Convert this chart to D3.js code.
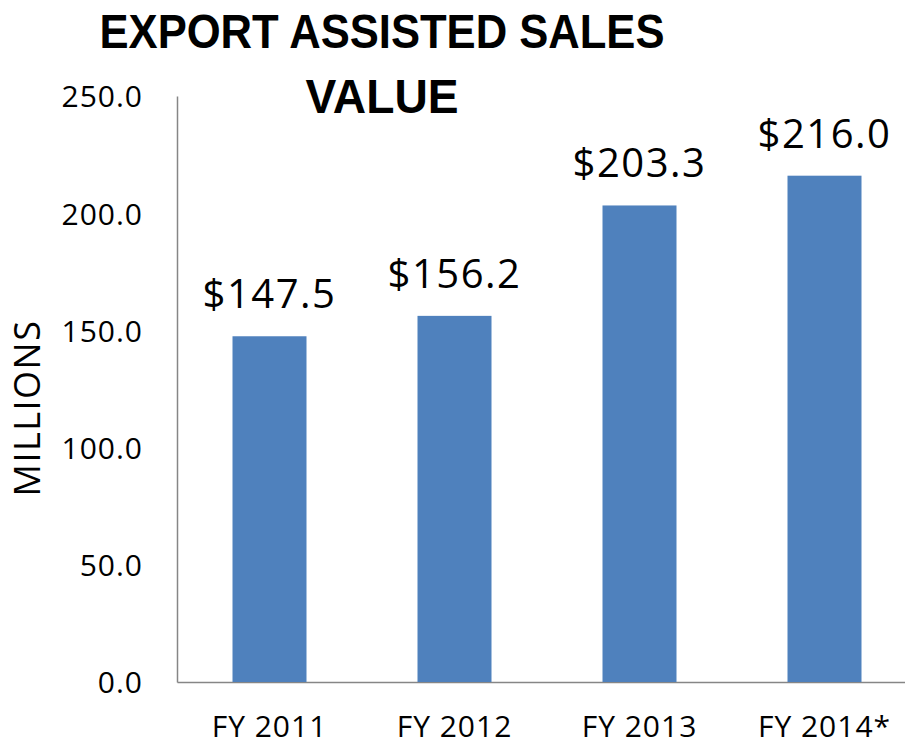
<!DOCTYPE html>
<html>
<head>
<meta charset="utf-8">
<script src="https://cdn.jsdelivr.net/npm/d3@7"></script>
<style>
  body { margin: 0; background: #fff; }
  svg { display: block; }
</style>
</head>
<body>
<div id="chart"></div>
<script>
// data
const years = ["FY 2011", "FY 2012", "FY 2013", "FY 2014*"];
const sales = [147.5, 156.2, 203.3, 216.0];
const yTicks = [0, 50, 100, 150, 200, 250];
const titleLines = ["EXPORT ASSISTED SALES", "VALUE"];

const width = 905, height = 745;
const plot = { left: 177, right: 917, top: 96, bottom: 682 };
const font = "'Open Sans', sans-serif";

const svg = d3.select("#chart").append("svg")
    .attr("width", width).attr("height", height);

// scales
const x = d3.scaleBand().domain(years)
    .range([plot.left, plot.right])
    .paddingInner(0.6).paddingOuter(0.3);
const y = d3.scaleLinear().domain([0, 250])
    .range([plot.bottom, plot.top]);

// y axis
const yAxis = svg.append("g")
    .attr("transform", "translate(" + plot.left + ",0)")
    .call(d3.axisLeft(y).tickValues(yTicks).tickSize(0).tickPadding(34)
        .tickFormat(d3.format(".1f")));
yAxis.select(".domain").attr("stroke", "#868686").attr("stroke-width", 1.5);
yAxis.selectAll("text")
    .attr("font-family", font).attr("font-size", 30)
    .attr("letter-spacing", 1)
    .attr("fill", "#000").attr("dy", "0.36em");

// x axis
const xAxis = svg.append("g")
    .attr("transform", "translate(0," + plot.bottom + ")")
    .call(d3.axisBottom(x).tickSize(0).tickPadding(34).tickSizeOuter(0));
xAxis.select(".domain").attr("stroke", "#868686").attr("stroke-width", 1.5);
xAxis.selectAll("text")
    .attr("font-family", font).attr("font-size", 30)
    .attr("letter-spacing", 1)
    .attr("fill", "#000");

// bars
svg.selectAll("rect.bar").data(sales)
    .join("rect").attr("class", "bar")
    .attr("x", (d, i) => x(years[i]))
    .attr("width", x.bandwidth())
    .attr("y", d => y(d))
    .attr("height", d => y(0) - y(d))
    .attr("fill", "#4F81BD");

// value labels
svg.selectAll("text.val").data(sales)
    .join("text").attr("class", "val")
    .attr("x", (d, i) => x(years[i]) + x.bandwidth() / 2)
    .attr("y", d => y(d) - 28)
    .attr("text-anchor", "middle")
    .attr("font-family", font).attr("font-size", 40)
    .attr("letter-spacing", 1.5)
    .attr("fill", "#000")
    .text(d => "$" + d3.format(".1f")(d));

// y axis title
svg.append("text")
    .attr("transform", "translate(40,408) rotate(-90)")
    .attr("text-anchor", "middle")
    .attr("font-family", font).attr("font-size", 36)
    .attr("letter-spacing", 1.5)
    .attr("fill", "#000")
    .text("MILLIONS");

// chart title, two lines
svg.append("text")
    .attr("x", 382).attr("y", 48)
    .attr("text-anchor", "middle")
    .attr("font-family", "'Liberation Sans', sans-serif").attr("font-weight", "bold")
    .attr("font-size", 48).attr("textLength", 565).attr("lengthAdjust", "spacingAndGlyphs")
    .attr("fill", "#000")
    .text(titleLines[0]);
svg.append("text")
    .attr("x", 382).attr("y", 113)
    .attr("text-anchor", "middle")
    .attr("font-family", "'Liberation Sans', sans-serif").attr("font-weight", "bold")
    .attr("font-size", 48).attr("textLength", 153).attr("lengthAdjust", "spacingAndGlyphs")
    .attr("fill", "#000")
    .text(titleLines[1]);
</script>
</body>
</html>
